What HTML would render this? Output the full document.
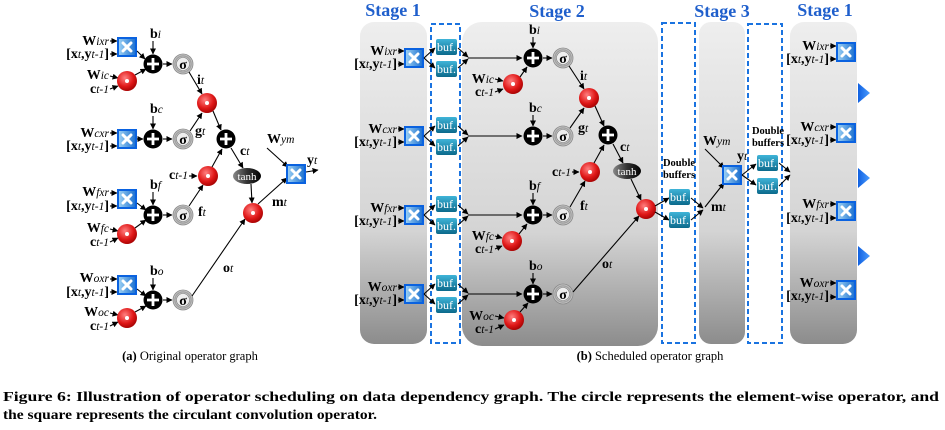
<!DOCTYPE html>
<html><head><meta charset="utf-8"><style>
html,body{margin:0;padding:0;background:#fff;}
svg{display:block;font-family:"Liberation Serif",serif;}
.a{stroke:#000;stroke-width:1.1;fill:none;marker-end:url(#ah);}
.t{font-size:14px;font-weight:bold;}
.s{font-size:11.5px;font-style:italic;font-weight:normal;}
.st{font-size:18px;font-weight:bold;fill:#1f5fcc;}
.db{fill:none;stroke:#1a73e0;stroke-width:2;stroke-dasharray:5,3;}
.bt{fill:#fff;font-size:12px;text-anchor:middle;}
.sg{font-size:14px;font-weight:bold;text-anchor:middle;}
</style></head><body>
<svg width="945" height="430" viewBox="0 0 945 430" xmlns="http://www.w3.org/2000/svg">
<defs>
<marker id="ah" markerWidth="6" markerHeight="6" refX="5.5" refY="3" orient="auto" markerUnits="userSpaceOnUse"><path d="M0,0L6,3L0,6z" fill="#000"/></marker>
<linearGradient id="bx" x1="0" y1="0" x2="1" y2="0"><stop offset="0" stop-color="#9fd3f5"/><stop offset="1" stop-color="#1b6fcf"/></linearGradient>
<radialGradient id="rd" cx="0.4" cy="0.35" r="0.7"><stop offset="0" stop-color="#ff8080"/><stop offset="0.6" stop-color="#e01818"/><stop offset="1" stop-color="#a00000"/></radialGradient>
<radialGradient id="sg" cx="0.5" cy="0.5" r="0.5"><stop offset="0.6" stop-color="#f4f4f4"/><stop offset="0.8" stop-color="#999"/><stop offset="1" stop-color="#ddd"/></radialGradient>
<linearGradient id="bf" x1="0" y1="0" x2="0" y2="1"><stop offset="0" stop-color="#3fb4d8"/><stop offset="1" stop-color="#0b6a8c"/></linearGradient>
<linearGradient id="th" x1="0" y1="0" x2="1" y2="0"><stop offset="0" stop-color="#888"/><stop offset="0.5" stop-color="#333"/><stop offset="1" stop-color="#000"/></linearGradient>
<linearGradient id="pn" x1="0" y1="0" x2="0" y2="1"><stop offset="0" stop-color="#eeeeee"/><stop offset="0.65" stop-color="#d4d4d4"/><stop offset="1" stop-color="#8c8c8c"/></linearGradient>
<linearGradient id="tri" x1="0" y1="0" x2="1" y2="0"><stop offset="0" stop-color="#1060e0"/><stop offset="1" stop-color="#4a9cff"/></linearGradient>
<g id="M"><rect x="-9" y="-9" width="18" height="18" fill="url(#bx)" stroke="#0a62e0" stroke-width="2"/><path d="M-4,-4L4,4M4,-4L-4,4" stroke="#fff" stroke-width="3" stroke-linecap="round"/></g>
<g id="P"><circle r="9.5" fill="#000"/><path d="M-6,0H6M0,-6V6" stroke="#fff" stroke-width="2.8"/></g>
<g id="S"><circle r="10" fill="url(#sg)" stroke="#888" stroke-width="0.8"/><circle r="6.5" fill="#eee" stroke="#777" stroke-width="0.6"/></g>
<g id="D"><circle r="10" fill="url(#rd)"/><circle r="2" fill="#fff"/></g>
<g id="B"><rect x="0" y="-8" width="21" height="16" rx="2" fill="url(#bf)"/></g>
</defs>

<!-- ============ (a) ============ -->
<g>
 <!-- row1 -->
 <text class="t" x="109" y="45" text-anchor="end">W<tspan class="s">ixr</tspan></text>
 <text class="t" x="109" y="58" font-weight="normal" text-anchor="end">[<tspan font-weight="bold">x</tspan><tspan class="s">t</tspan>,<tspan font-weight="bold">y</tspan><tspan class="s">t-1</tspan>]</text>
 <line class="a" x1="110" y1="41" x2="117" y2="41"/><line class="a" x1="110" y1="54" x2="117" y2="54"/>
 <use href="#M" x="127" y="47"/>
 <line class="a" x1="137" y1="51" x2="145" y2="59"/>
 <text class="t" x="109" y="79" text-anchor="end">W<tspan class="s">ic</tspan></text>
 <text class="t" x="109" y="93" text-anchor="end">c<tspan class="s">t-1</tspan></text>
 <line class="a" x1="110" y1="76" x2="118" y2="78"/><line class="a" x1="110" y1="89" x2="118" y2="86"/>
 <use href="#D" x="127" y="81"/>
 <line class="a" x1="135" y1="75" x2="146" y2="69"/>
 <use href="#P" x="153" y="64"/>
 <text class="t" x="150" y="38">b<tspan class="s">i</tspan></text>
 <line class="a" x1="153" y1="41" x2="153" y2="54"/>
 <line class="a" x1="163" y1="64" x2="172" y2="64"/>
 <use href="#S" x="183" y="64"/><text class="sg" x="183" y="69">σ</text>
 <line class="a" x1="189" y1="72" x2="202" y2="94"/>
 <text class="t" x="197" y="84">i<tspan class="s">t</tspan></text>
 <use href="#D" x="207" y="103"/>
 <!-- row2 -->
 <text class="t" x="109" y="137" text-anchor="end">W<tspan class="s">cxr</tspan></text>
 <text class="t" x="109" y="150" font-weight="normal" text-anchor="end">[<tspan font-weight="bold">x</tspan><tspan class="s">t</tspan>,<tspan font-weight="bold">y</tspan><tspan class="s">t-1</tspan>]</text>
 <line class="a" x1="110" y1="133" x2="117" y2="133"/><line class="a" x1="110" y1="146" x2="117" y2="146"/>
 <use href="#M" x="127" y="139"/>
 <line class="a" x1="137" y1="139" x2="143" y2="139"/>
 <use href="#P" x="153" y="139"/>
 <text class="t" x="150" y="113">b<tspan class="s">c</tspan></text>
 <line class="a" x1="153" y1="116" x2="153" y2="129"/>
 <line class="a" x1="163" y1="139" x2="172" y2="139"/>
 <use href="#S" x="183" y="139"/><text class="sg" x="183" y="144">σ</text>
 <text class="t" x="195" y="135">g<tspan class="s">t</tspan></text>
 <line class="a" x1="190" y1="131" x2="202" y2="113"/>
 <line class="a" x1="213" y1="111" x2="221" y2="130"/>
 <use href="#P" x="226" y="139"/>
 <text class="t" x="240" y="155">c<tspan class="s">t</tspan></text>
 <line class="a" x1="231" y1="148" x2="243" y2="168"/>
 <ellipse cx="247" cy="176" rx="14" ry="8" fill="url(#th)"/><text x="247" y="180" text-anchor="middle" fill="#fff" font-size="11">tanh</text>
 <text class="t" x="188" y="179" text-anchor="end">c<tspan class="s">t-1</tspan></text>
 <line class="a" x1="189" y1="176" x2="197" y2="176"/>
 <use href="#D" x="208" y="176"/>
 <line class="a" x1="212" y1="167" x2="222" y2="149"/>
 <!-- row3 -->
 <text class="t" x="109" y="196" text-anchor="end">W<tspan class="s">fxr</tspan></text>
 <text class="t" x="109" y="210" font-weight="normal" text-anchor="end">[<tspan font-weight="bold">x</tspan><tspan class="s">t</tspan>,<tspan font-weight="bold">y</tspan><tspan class="s">t-1</tspan>]</text>
 <line class="a" x1="110" y1="193" x2="117" y2="193"/><line class="a" x1="110" y1="206" x2="117" y2="206"/>
 <use href="#M" x="127" y="199"/>
 <line class="a" x1="137" y1="203" x2="146" y2="210"/>
 <text class="t" x="109" y="232" text-anchor="end">W<tspan class="s">fc</tspan></text>
 <text class="t" x="109" y="246" text-anchor="end">c<tspan class="s">t-1</tspan></text>
 <line class="a" x1="110" y1="229" x2="118" y2="231"/><line class="a" x1="110" y1="242" x2="118" y2="238"/>
 <use href="#D" x="127" y="234"/>
 <line class="a" x1="135" y1="228" x2="146" y2="220"/>
 <use href="#P" x="153" y="215"/>
 <text class="t" x="150" y="189">b<tspan class="s">f</tspan></text>
 <line class="a" x1="153" y1="192" x2="153" y2="205"/>
 <line class="a" x1="163" y1="215" x2="172" y2="215"/>
 <use href="#S" x="183" y="215"/><text class="sg" x="183" y="220">σ</text>
 <text class="t" x="198" y="216">f<tspan class="s">t</tspan></text>
 <line class="a" x1="189" y1="206" x2="203" y2="185"/>
 <!-- row4 -->
 <text class="t" x="109" y="282" text-anchor="end">W<tspan class="s">oxr</tspan></text>
 <text class="t" x="109" y="296" font-weight="normal" text-anchor="end">[<tspan font-weight="bold">x</tspan><tspan class="s">t</tspan>,<tspan font-weight="bold">y</tspan><tspan class="s">t-1</tspan>]</text>
 <line class="a" x1="110" y1="279" x2="117" y2="279"/><line class="a" x1="110" y1="292" x2="117" y2="292"/>
 <use href="#M" x="127" y="285"/>
 <line class="a" x1="137" y1="289" x2="146" y2="296"/>
 <text class="t" x="109" y="316" text-anchor="end">W<tspan class="s">oc</tspan></text>
 <text class="t" x="109" y="330" text-anchor="end">c<tspan class="s">t-1</tspan></text>
 <line class="a" x1="110" y1="313" x2="118" y2="315"/><line class="a" x1="110" y1="326" x2="118" y2="322"/>
 <use href="#D" x="127" y="318"/>
 <line class="a" x1="135" y1="312" x2="146" y2="306"/>
 <use href="#P" x="153" y="300"/>
 <text class="t" x="150" y="275">b<tspan class="s">o</tspan></text>
 <line class="a" x1="153" y1="278" x2="153" y2="290"/>
 <line class="a" x1="163" y1="300" x2="172" y2="300"/>
 <use href="#S" x="183" y="300"/><text class="sg" x="183" y="305">σ</text>
 <line class="a" x1="192" y1="296" x2="245" y2="219"/>
 <text class="t" x="223" y="272">o<tspan class="s">t</tspan></text>
 <line class="a" x1="251" y1="184" x2="252" y2="203"/>
 <use href="#D" x="253" y="213"/>
 <text class="t" x="272" y="206">m<tspan class="s">t</tspan></text>
 <line class="a" x1="258" y1="204" x2="287" y2="178"/>
 <text class="t" x="267" y="143">W<tspan class="s">ym</tspan></text>
 <line class="a" x1="267" y1="148" x2="288" y2="167"/>
 <use href="#M" x="296" y="174"/>
 <line class="a" x1="306" y1="172" x2="318" y2="170"/>
 <text class="t" x="307" y="164">y<tspan class="s">t</tspan></text>
</g>
<text x="190" y="360" text-anchor="middle" font-size="12.5"><tspan font-weight="bold">(a)</tspan> Original operator graph</text>

<!-- ============ (b) panels ============ -->
<rect x="360" y="22" width="67" height="322" rx="14" fill="url(#pn)"/>
<rect x="462" y="22" width="196" height="324" rx="20" fill="url(#pn)"/>
<rect x="699" y="22" width="46" height="322" rx="12" fill="url(#pn)"/>
<rect x="790" y="22" width="67" height="322" rx="14" fill="url(#pn)"/>
<rect class="db" x="431" y="24" width="29" height="319"/>
<rect class="db" x="662" y="23" width="33" height="320"/>
<rect class="db" x="748" y="24" width="34" height="319"/>
<text class="st" x="393" y="16" text-anchor="middle">Stage 1</text>
<text class="st" x="557" y="17" text-anchor="middle">Stage 2</text>
<text class="st" x="722" y="17" text-anchor="middle">Stage 3</text>
<text class="st" x="825" y="16" text-anchor="middle">Stage 1</text>
<path d="M858,83L870,93L858,103z" fill="url(#tri)"/>
<path d="M858,168L870,178L858,188z" fill="url(#tri)"/>
<path d="M858,246L870,256L858,266z" fill="url(#tri)"/>

<!-- stage1 left rows + bufs -->
<g>
 <text class="t" x="397" y="55" text-anchor="end">W<tspan class="s">ixr</tspan></text>
 <text class="t" x="397" y="68" font-weight="normal" text-anchor="end">[<tspan font-weight="bold">x</tspan><tspan class="s">t</tspan>,<tspan font-weight="bold">y</tspan><tspan class="s">t-1</tspan>]</text>
 <line class="a" x1="398" y1="51" x2="404" y2="51"/><line class="a" x1="398" y1="64" x2="404" y2="64"/>
 <use href="#M" x="414" y="58"/>
 <line class="a" x1="424" y1="58" x2="435" y2="48"/><line class="a" x1="424" y1="58" x2="435" y2="68"/>
 <use href="#B" x="436" y="47"/><text class="bt" x="446.5" y="51">buf.</text>
 <use href="#B" x="436" y="69"/><text class="bt" x="446.5" y="73">buf.</text>
 <line class="a" x1="458" y1="48" x2="468" y2="57"/><line class="a" x1="458" y1="68" x2="468" y2="59"/>
 <line class="a" x1="468" y1="58" x2="522" y2="58"/>

 <text class="t" x="397" y="133" text-anchor="end">W<tspan class="s">cxr</tspan></text>
 <text class="t" x="397" y="146" font-weight="normal" text-anchor="end">[<tspan font-weight="bold">x</tspan><tspan class="s">t</tspan>,<tspan font-weight="bold">y</tspan><tspan class="s">t-1</tspan>]</text>
 <line class="a" x1="398" y1="129" x2="404" y2="129"/><line class="a" x1="398" y1="142" x2="404" y2="142"/>
 <use href="#M" x="414" y="136"/>
 <line class="a" x1="424" y1="136" x2="435" y2="126"/><line class="a" x1="424" y1="136" x2="435" y2="146"/>
 <use href="#B" x="436" y="125"/><text class="bt" x="446.5" y="129">buf.</text>
 <use href="#B" x="436" y="147"/><text class="bt" x="446.5" y="151">buf.</text>
 <line class="a" x1="458" y1="126" x2="468" y2="135"/><line class="a" x1="458" y1="146" x2="468" y2="137"/>
 <line class="a" x1="468" y1="136" x2="522" y2="136"/>

 <text class="t" x="397" y="212" text-anchor="end">W<tspan class="s">fxr</tspan></text>
 <text class="t" x="397" y="225" font-weight="normal" text-anchor="end">[<tspan font-weight="bold">x</tspan><tspan class="s">t</tspan>,<tspan font-weight="bold">y</tspan><tspan class="s">t-1</tspan>]</text>
 <line class="a" x1="398" y1="208" x2="404" y2="208"/><line class="a" x1="398" y1="221" x2="404" y2="221"/>
 <use href="#M" x="414" y="215"/>
 <line class="a" x1="424" y1="215" x2="435" y2="205"/><line class="a" x1="424" y1="215" x2="435" y2="225"/>
 <use href="#B" x="436" y="204"/><text class="bt" x="446.5" y="208">buf.</text>
 <use href="#B" x="436" y="226"/><text class="bt" x="446.5" y="230">buf.</text>
 <line class="a" x1="458" y1="205" x2="468" y2="214"/><line class="a" x1="458" y1="225" x2="468" y2="216"/>
 <line class="a" x1="468" y1="215" x2="522" y2="215"/>

 <text class="t" x="397" y="291" text-anchor="end">W<tspan class="s">oxr</tspan></text>
 <text class="t" x="397" y="304" font-weight="normal" text-anchor="end">[<tspan font-weight="bold">x</tspan><tspan class="s">t</tspan>,<tspan font-weight="bold">y</tspan><tspan class="s">t-1</tspan>]</text>
 <line class="a" x1="398" y1="287" x2="404" y2="287"/><line class="a" x1="398" y1="300" x2="404" y2="300"/>
 <use href="#M" x="414" y="294"/>
 <line class="a" x1="424" y1="294" x2="435" y2="284"/><line class="a" x1="424" y1="294" x2="435" y2="304"/>
 <use href="#B" x="436" y="283"/><text class="bt" x="446.5" y="287">buf.</text>
 <use href="#B" x="436" y="305"/><text class="bt" x="446.5" y="309">buf.</text>
 <line class="a" x1="458" y1="284" x2="468" y2="293"/><line class="a" x1="458" y1="304" x2="468" y2="295"/>
 <line class="a" x1="468" y1="294" x2="522" y2="294"/>
</g>

<!-- stage2 -->
<g>
 <use href="#P" x="533" y="58"/>
 <text class="t" x="529" y="34">b<tspan class="s">i</tspan></text>
 <line class="a" x1="533" y1="37" x2="533" y2="48"/>
 <line class="a" x1="543" y1="58" x2="552" y2="58"/>
 <use href="#S" x="563" y="58"/><text class="sg" x="563" y="63">σ</text>
 <text class="t" x="494" y="83" text-anchor="end">W<tspan class="s">ic</tspan></text>
 <text class="t" x="494" y="96" text-anchor="end">c<tspan class="s">t-1</tspan></text>
 <line class="a" x1="495" y1="79" x2="503" y2="81"/><line class="a" x1="495" y1="92" x2="503" y2="89"/>
 <use href="#D" x="513" y="84"/>
 <line class="a" x1="520" y1="77" x2="527" y2="67"/>
 <line class="a" x1="569" y1="66" x2="584" y2="89"/>
 <text class="t" x="580" y="80">i<tspan class="s">t</tspan></text>
 <use href="#D" x="589" y="98"/>

 <use href="#P" x="533" y="136"/>
 <text class="t" x="529" y="112">b<tspan class="s">c</tspan></text>
 <line class="a" x1="533" y1="115" x2="533" y2="126"/>
 <line class="a" x1="543" y1="136" x2="552" y2="136"/>
 <use href="#S" x="563" y="136"/><text class="sg" x="563" y="141">σ</text>
 <text class="t" x="578" y="132">g<tspan class="s">t</tspan></text>
 <line class="a" x1="570" y1="128" x2="584" y2="108"/>
 <line class="a" x1="595" y1="106" x2="604" y2="126"/>
 <use href="#P" x="608" y="135"/>
 <text class="t" x="620" y="151">c<tspan class="s">t</tspan></text>
 <line class="a" x1="613" y1="144" x2="623" y2="163"/>
 <ellipse cx="627" cy="171" rx="14" ry="8" fill="url(#th)"/><text x="627" y="175" text-anchor="middle" fill="#fff" font-size="11">tanh</text>
 <text class="t" x="571" y="176" text-anchor="end">c<tspan class="s">t-1</tspan></text>
 <line class="a" x1="572" y1="172" x2="579" y2="172"/>
 <use href="#D" x="590" y="172"/>
 <line class="a" x1="594" y1="163" x2="604" y2="145"/>

 <use href="#P" x="533" y="215"/>
 <text class="t" x="529" y="190">b<tspan class="s">f</tspan></text>
 <line class="a" x1="533" y1="193" x2="533" y2="205"/>
 <line class="a" x1="543" y1="215" x2="552" y2="215"/>
 <use href="#S" x="563" y="215"/><text class="sg" x="563" y="220">σ</text>
 <text class="t" x="580" y="210">f<tspan class="s">t</tspan></text>
 <line class="a" x1="570" y1="207" x2="585" y2="181"/>
 <text class="t" x="494" y="240" text-anchor="end">W<tspan class="s">fc</tspan></text>
 <text class="t" x="494" y="253" text-anchor="end">c<tspan class="s">t-1</tspan></text>
 <line class="a" x1="495" y1="236" x2="502" y2="238"/><line class="a" x1="495" y1="249" x2="502" y2="246"/>
 <use href="#D" x="512" y="241"/>
 <line class="a" x1="519" y1="234" x2="527" y2="224"/>

 <use href="#P" x="533" y="294"/>
 <text class="t" x="529" y="270">b<tspan class="s">o</tspan></text>
 <line class="a" x1="533" y1="273" x2="533" y2="284"/>
 <line class="a" x1="543" y1="294" x2="552" y2="294"/>
 <use href="#S" x="563" y="294"/><text class="sg" x="563" y="299">σ</text>
 <line class="a" x1="573" y1="292" x2="639" y2="216"/>
 <text class="t" x="602" y="268">o<tspan class="s">t</tspan></text>
 <text class="t" x="494" y="320" text-anchor="end">W<tspan class="s">oc</tspan></text>
 <text class="t" x="494" y="333" text-anchor="end">c<tspan class="s">t-1</tspan></text>
 <line class="a" x1="495" y1="316" x2="504" y2="318"/><line class="a" x1="495" y1="329" x2="504" y2="325"/>
 <use href="#D" x="514" y="320"/>
 <line class="a" x1="520" y1="312" x2="528" y2="303"/>
 <line class="a" x1="631" y1="179" x2="641" y2="200"/>
 <use href="#D" x="646" y="209"/>
</g>

<!-- double buffers + stage3 -->
<g>
 <text x="679" y="166" text-anchor="middle" font-size="10.5" font-weight="bold">Double</text>
 <text x="679" y="178" text-anchor="middle" font-size="10.5" font-weight="bold">buffers</text>
 <line class="a" x1="655" y1="206" x2="669" y2="198"/><line class="a" x1="655" y1="212" x2="669" y2="220"/>
 <use href="#B" x="669" y="197"/><text class="bt" x="679.5" y="201">buf.</text>
 <use href="#B" x="669" y="220"/><text class="bt" x="679.5" y="224">buf.</text>
 <line class="a" x1="691" y1="198" x2="703" y2="208"/><line class="a" x1="691" y1="220" x2="703" y2="210"/>
 <line class="a" x1="705" y1="207" x2="724" y2="183"/>
 <text class="t" x="711" y="211">m<tspan class="s">t</tspan></text>
 <text class="t" x="703" y="145">W<tspan class="s">ym</tspan></text>
 <line class="a" x1="705" y1="149" x2="724" y2="168"/>
 <use href="#M" x="732" y="175"/>
 <text class="t" x="737" y="160">y<tspan class="s">t</tspan></text>
 <line class="a" x1="742" y1="175" x2="756" y2="164"/><line class="a" x1="742" y1="175" x2="756" y2="185"/>
 <text x="768" y="134" text-anchor="middle" font-size="10.5" font-weight="bold">Double</text>
 <text x="768" y="146" text-anchor="middle" font-size="10.5" font-weight="bold">buffers</text>
 <use href="#B" x="757" y="163"/><text class="bt" x="767.5" y="167">buf.</text>
 <use href="#B" x="757" y="186"/><text class="bt" x="767.5" y="190">buf.</text>
 <line class="a" x1="779" y1="163" x2="790" y2="172"/><line class="a" x1="779" y1="186" x2="790" y2="175"/>
</g>

<!-- stage1 right -->
<g>
 <text class="t" x="829" y="50" text-anchor="end">W<tspan class="s">ixr</tspan></text>
 <text class="t" x="829" y="63" font-weight="normal" text-anchor="end">[<tspan font-weight="bold">x</tspan><tspan class="s">t</tspan>,<tspan font-weight="bold">y</tspan><tspan class="s">t-1</tspan>]</text>
 <line class="a" x1="830" y1="46" x2="836" y2="46"/><line class="a" x1="830" y1="59" x2="836" y2="59"/>
 <use href="#M" x="846" y="52"/>
 <text class="t" x="829" y="131" text-anchor="end">W<tspan class="s">cxr</tspan></text>
 <text class="t" x="829" y="144" font-weight="normal" text-anchor="end">[<tspan font-weight="bold">x</tspan><tspan class="s">t</tspan>,<tspan font-weight="bold">y</tspan><tspan class="s">t-1</tspan>]</text>
 <line class="a" x1="830" y1="127" x2="836" y2="127"/><line class="a" x1="830" y1="140" x2="836" y2="140"/>
 <use href="#M" x="846" y="133"/>
 <text class="t" x="829" y="208" text-anchor="end">W<tspan class="s">fxr</tspan></text>
 <text class="t" x="829" y="222" font-weight="normal" text-anchor="end">[<tspan font-weight="bold">x</tspan><tspan class="s">t</tspan>,<tspan font-weight="bold">y</tspan><tspan class="s">t-1</tspan>]</text>
 <line class="a" x1="830" y1="204" x2="836" y2="204"/><line class="a" x1="830" y1="218" x2="836" y2="218"/>
 <use href="#M" x="846" y="211"/>
 <text class="t" x="829" y="287" text-anchor="end">W<tspan class="s">oxr</tspan></text>
 <text class="t" x="829" y="300" font-weight="normal" text-anchor="end">[<tspan font-weight="bold">x</tspan><tspan class="s">t</tspan>,<tspan font-weight="bold">y</tspan><tspan class="s">t-1</tspan>]</text>
 <line class="a" x1="830" y1="283" x2="836" y2="283"/><line class="a" x1="830" y1="297" x2="836" y2="297"/>
 <use href="#M" x="846" y="290"/>
</g>

<text x="650" y="360" text-anchor="middle" font-size="12.5"><tspan font-weight="bold">(b)</tspan> Scheduled operator graph</text>

<text x="3" y="401" font-size="14" font-weight="bold" textLength="936" lengthAdjust="spacingAndGlyphs">Figure 6: Illustration of operator scheduling on data dependency graph. The circle represents the element-wise operator, and</text>
<text x="3" y="419" font-size="14" font-weight="bold" textLength="374" lengthAdjust="spacingAndGlyphs">the square represents the circulant convolution operator.</text>
</svg>
</body></html>
